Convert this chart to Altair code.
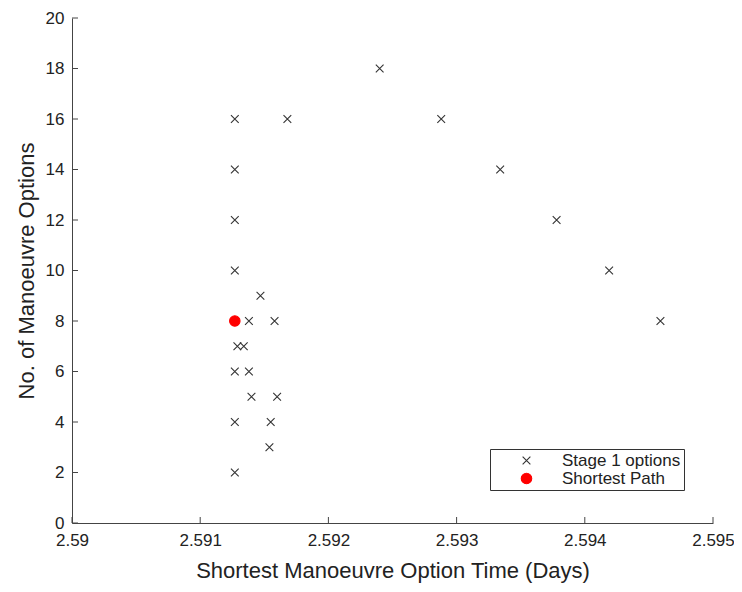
import altair as alt
import pandas as pd

# Stage 1 options (x: days, y: number of options)
stage_x = [2.59127, 2.59168, 2.59127, 2.59127, 2.59127, 2.59147, 2.59138, 2.59158,
           2.59129, 2.59134, 2.59127, 2.59138, 2.59140, 2.59160, 2.59127, 2.59155,
           2.59154, 2.59127, 2.59240, 2.59288, 2.59334, 2.59378, 2.59419, 2.59459]
stage_y = [16, 16, 14, 12, 10, 9, 8, 8,
           7, 7, 6, 6, 5, 5, 4, 4,
           3, 2, 18, 16, 14, 12, 10, 8]
short_x = [2.59127]
short_y = [8]

x_ticks = [2.59, 2.591, 2.592, 2.593, 2.594, 2.595]
y_ticks = [0, 2, 4, 6, 8, 10, 12, 14, 16, 18, 20]

series_names = ["Stage 1 options", "Shortest Path"]

W, H = 641, 505
FONT = "Liberation Sans"

df = pd.DataFrame({
    "x": stage_x + short_x,
    "y": stage_y + short_y,
    "series": [series_names[0]] * len(stage_x) + [series_names[1]] * len(short_x),
})

cross = "M-1,-1L1,1M-1,1L1,-1"

xscale = alt.Scale(domain=[2.59, 2.595], nice=False, zero=False)
yscale = alt.Scale(domain=[0, 20], nice=False)

leg = alt.Legend(title=None, orient="none", legendX=418, legendY=431,
                 strokeColor="#333", fillColor="white", padding=3,
                 symbolOffset=25, labelOffset=27, rowPadding=0,
                 labelFont=FONT, labelFontSize=17, labelColor="#222",
                 symbolStrokeWidth=1.1)

points = alt.Chart(df).mark_point(opacity=1, strokeWidth=1.1).encode(
    x=alt.X("x:Q", scale=xscale,
            axis=alt.Axis(values=x_ticks, format=".3~f", tickSize=0, grid=False,
                          labelFlush=False,
                          title="Shortest Manoeuvre Option Time (Days)",
                          labelPadding=9, titlePadding=12)),
    y=alt.Y("y:Q", scale=yscale,
            axis=alt.Axis(values=y_ticks, tickSize=0, grid=False, labelFlush=False,
                          title="No. of Manoeuvre Options",
                          labelPadding=8, titlePadding=7)),
    shape=alt.Shape("series:N", scale=alt.Scale(domain=series_names, range=[cross, "circle"]),
                    legend=leg),
    stroke=alt.Stroke("series:N", scale=alt.Scale(domain=series_names, range=["#333333", "#ff0000"]),
                      legend=leg),
    fill=alt.Fill("series:N", scale=alt.Scale(domain=series_names, range=["transparent", "#ff0000"]),
                  legend=leg),
    size=alt.Size("series:N", scale=alt.Scale(domain=series_names, range=[60, 110]), legend=leg),
    order=alt.Order("series:N", sort="descending"),
)

xt = alt.Chart(pd.DataFrame({"t": x_ticks})).mark_rule(color="#444", strokeWidth=1).encode(
    x=alt.X("t:Q", scale=xscale), y=alt.value(H), y2=alt.value(H - 6))
yt = alt.Chart(pd.DataFrame({"t": y_ticks})).mark_rule(color="#444", strokeWidth=1).encode(
    y=alt.Y("t:Q", scale=yscale), x=alt.value(0), x2=alt.value(6))

chart = alt.layer(xt, yt, points).properties(
    width=W, height=H,
    autosize=alt.AutoSizeParams(type="none"),
    padding={"left": 64, "top": 10, "right": 21, "bottom": 61},
).configure_view(stroke=None).configure_axis(
    domainColor="#444", labelFont=FONT, titleFont=FONT, labelFontSize=17, titleFontSize=22,
    labelColor="#222", titleColor="#222", titleFontWeight="normal",
).configure_axisY(labelAlign="right")

chart.save("out.html", embed_options={"renderer": "svg", "actions": False})
